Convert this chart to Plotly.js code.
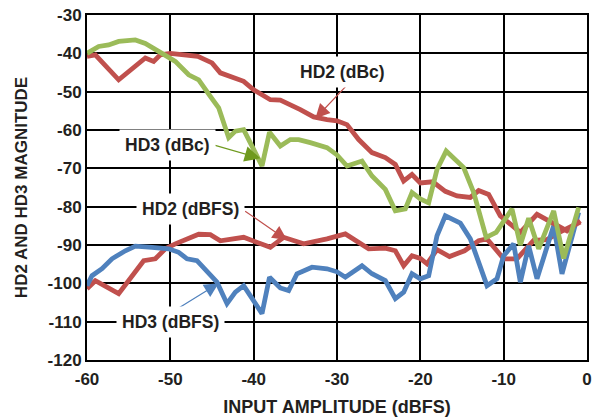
<!DOCTYPE html>
<html>
<head>
<meta charset="utf-8">
<script src="https://cdn.plot.ly/plotly-3.0.1.min.js"></script>
<style>html,body{margin:0;padding:0;background:#fff;}#chart{width:603px;height:418px;}</style>
</head>
<body>
<div id="chart"></div>
<script>
// HD2 (dBc)
const hd2dbcX = [-60, -59, -56.2, -53, -52, -51.2, -50, -48.2, -46.7, -45, -44, -41.2, -40, -38, -36.8, -34.4, -32.8, -31.2, -30, -28.8, -27.4, -25.8, -24.2, -23, -22, -21, -20, -18.5, -17, -15.6, -14, -13, -11.8, -10.4, -9.4, -8, -6, -4, -2.4, -0.8];
const hd2dbcY = [-40.8, -40.4, -46.9, -41.2, -42.1, -40.4, -40, -40.4, -40.8, -42.5, -45.1, -47.3, -49.5, -52.1, -52.2, -54.7, -56.6, -57.3, -57.6, -58.6, -62.5, -65.9, -67.2, -69, -73.3, -71.6, -73.8, -73.5, -76, -77.2, -77.6, -75.8, -76.8, -82.4, -84.1, -86.7, -82, -84.5, -86.3, -83.7];
// HD3 (dBc)
const hd3dbcX = [-60, -58.6, -57.4, -56.2, -54.2, -53, -51, -49.4, -47.8, -46.6, -45.2, -44.2, -43, -42.2, -41.2, -40, -39, -38.1, -36.8, -35.6, -34.6, -33.2, -31.2, -30, -28.8, -27, -25.8, -24.2, -23, -21.8, -21, -20, -19, -18, -16.9, -14.8, -13.6, -12.1, -10.9, -9, -8, -7, -5.8, -4, -2.8, -1];
const hd3dbcY = [-40, -38.2, -37.8, -36.9, -36.5, -37.4, -40, -42.1, -45.6, -46.9, -51.2, -54.2, -62, -60.3, -59.9, -65.1, -69.4, -60.6, -64.2, -62.5, -62.5, -63.3, -64.6, -66.5, -69.4, -68.1, -72, -75.5, -81.1, -80.6, -76.3, -78, -79, -70.3, -65.5, -69.8, -76.3, -88, -86.7, -80.6, -90, -83, -91, -81.1, -93.5, -80.2];
// HD2 (dBFS)
const hd2dbfsX = [-60, -59, -56.2, -54.6, -53.2, -51.8, -50.6, -49.4, -47.8, -46.6, -45.2, -44, -41.2, -40, -38, -36.4, -34, -31.2, -29, -26.2, -24.2, -23, -22, -21, -20, -19.2, -18, -16.5, -14.7, -13, -12, -10, -8.4, -6.4, -4.8, -3.2, -0.8];
const hd2dbfsY = [-101.4, -99.3, -102.7, -98, -94.1, -93.6, -91, -89.7, -88.4, -87.2, -87.3, -88.9, -88, -88.9, -90.6, -88, -89.7, -88.4, -87.1, -91, -90.8, -91.5, -95.4, -92.8, -93.5, -94.9, -91.2, -93, -91.5, -88.9, -88.4, -93.6, -93.6, -88.8, -88.6, -86.6, -84];
// HD3 (dBFS)
const hd3dbfsX = [-60, -59.4, -58.2, -57, -55.4, -54.2, -52.2, -50.2, -49, -48, -46.8, -45.2, -44.4, -43.2, -42.2, -41.2, -39, -38.1, -36.8, -35.8, -34.8, -33, -31.2, -30, -29, -27, -25.8, -24.2, -23, -22, -21, -20, -19, -18, -17, -15.2, -14, -12, -10.8, -10, -8.8, -8, -7, -6, -4, -3, -1];
const hd3dbfsY = [-100.6, -98, -96.2, -93.6, -91.5, -90.3, -90.6, -91, -91.9, -93.6, -94.1, -98, -99.7, -105.3, -102.3, -100.6, -107.9, -98.4, -101.2, -101.9, -97.5, -95.8, -96.2, -97, -98.4, -95.4, -97.5, -99.3, -104, -102.3, -97.5, -98.8, -98, -87.6, -82.4, -84.3, -88.4, -100.6, -98.8, -92.8, -89.7, -99.7, -90.2, -98.8, -85, -97.5, -81.5];

const xTickVals = [-60, -50, -40, -30, -20, -10, 0];
const xTickText = ['-60', '-50', '-40', '-30', '-20', '-10', '0'];
const yTickVals = [-120, -110, -100, -90, -80, -70, -60, -50, -40, -30];
const yTickText = ['-120', '-110', '-100', '-90', '-80', '-70', '-60', '-50', '-40', '-30'];
const labels = ['HD2 (dBc)', 'HD3 (dBc)', 'HD2 (dBFS)', 'HD3 (dBFS)'];

const RED = '#C0504D', GREEN = '#9BBB59', BLUE = '#4F81BD';
const FONT = '"Liberation Sans", Arial, sans-serif';

function tr(x, y, c, name) {
  return {x: x, y: y, type: 'scatter', mode: 'lines', name: name,
          line: {color: c, width: 4.8}, hoverinfo: 'skip'};
}
const data = [
  tr(hd2dbfsX, hd2dbfsY, RED, labels[2]),
  tr(hd3dbfsX, hd3dbfsY, BLUE, labels[3]),
  tr(hd2dbcX, hd2dbcY, RED, labels[0]),
  tr(hd3dbcX, hd3dbcY, GREEN, labels[1])
];

function lab(text, x, y) {
  return {text: '<b>' + text + '</b>', x: x, y: y, xref: 'x', yref: 'y', showarrow: false,
          bgcolor: '#ffffff', borderpad: 5, font: {family: FONT, size: 17.5, color: '#231f20'}};
}
function arr(x, y, ax, ay, c, size) {
  return {text: '', x: x, y: y, ax: ax, ay: ay, xref: 'x', yref: 'y', axref: 'x', ayref: 'y',
          showarrow: true, arrowhead: 2, arrowsize: size, arrowwidth: 1.2, arrowcolor: c, standoff: 0};
}

const layout = {
  width: 603, height: 418,
  margin: {l: 87, r: 16, t: 15, b: 58},
  paper_bgcolor: '#ffffff', plot_bgcolor: '#ffffff',
  showlegend: false,
  font: {family: FONT, color: '#231f20'},
  xaxis: {
    range: [-60, 0], tickmode: 'array', tickvals: xTickVals, ticktext: xTickText,
    showgrid: true, gridcolor: '#000000', gridwidth: 2,
    showline: true, linecolor: '#000000', linewidth: 2, mirror: true,
    ticks: '', zeroline: false, fixedrange: true, ticklabelstandoff: 3,
    tickfont: {family: FONT, size: 17, color: '#231f20', weight: 'bold'},
    title: {text: '<b>INPUT AMPLITUDE (dBFS)</b>', font: {family: FONT, size: 18, color: '#231f20'}, standoff: 12}
  },
  yaxis: {
    range: [-120, -30], tickmode: 'array', tickvals: yTickVals, ticktext: yTickText,
    showgrid: true, gridcolor: '#000000', gridwidth: 2,
    showline: true, linecolor: '#000000', linewidth: 2, mirror: true,
    ticks: '', zeroline: false, fixedrange: true,
    tickfont: {family: FONT, size: 17, color: '#231f20', weight: 'bold'},
    title: {text: '<b>HD2 AND HD3 MAGNITUDE</b>', font: {family: FONT, size: 17, color: '#231f20'}, standoff: 16}
  },
  annotations: [
    arr(-32.6, -57.0, -28.8, -48.3, RED, 2.4),
    arr(-39.2, -67.4, -44.8, -63.9, '#6f9a1e', 2.6),
    arr(-36.0, -88.7, -41.2, -80.9, RED, 2.4),
    arr(-44.2, -100.0, -50.0, -107.8, BLUE, 2.4),
    lab(labels[0], -29.3, -44.9),
    lab(labels[1], -50.4, -63.9),
    lab(labels[2], -47.6, -80.6),
    lab(labels[3], -50.0, -110.1)
  ]
};

Plotly.newPlot('chart', data, layout, {staticPlot: true, displayModeBar: false});
</script>
</body>
</html>
